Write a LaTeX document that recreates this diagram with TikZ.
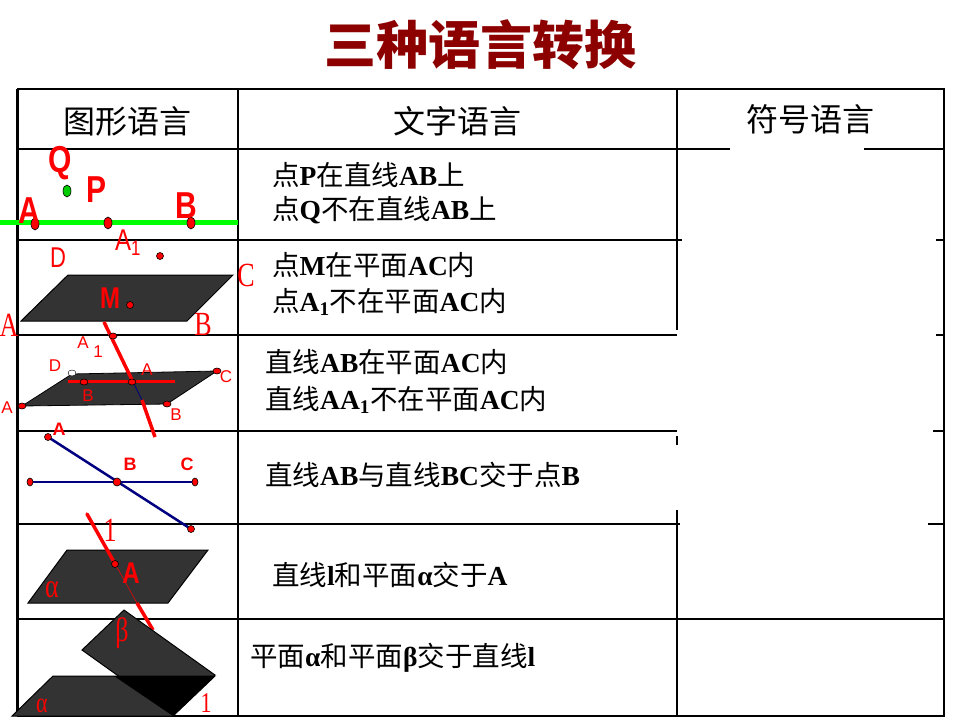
\documentclass[tikz,border=0pt]{standalone}
\usepackage{fontspec}
\setmainfont{Liberation Serif}
\newfontfamily\cjk{Noto Sans CJK SC}
\newfontfamily\lsans{Liberation Sans}
\newcommand{\zh}[1]{{\cjk #1}}
\newcommand{\bb}[1]{\textbf{#1}}
\begin{document}
\begin{tikzpicture}[x=1pt,y=-1pt,
  grid/.style={line width=1.2pt,black},
  txt/.style={anchor=west,font=\fontsize{27.5}{29}\selectfont,inner sep=0pt},
  hdr/.style={font=\cjk\fontsize{32}{34}\selectfont,inner sep=0pt},
  lbl/.style={text=red,font=\lsans\bfseries\fontsize{30}{30}\selectfont,inner sep=0pt,yscale=1.25},
  slbl/.style={text=red,font=\lsans\fontsize{17}{17}\selectfont,inner sep=0pt},
  rlbl/.style={text=red,font=\fontsize{26}{26}\selectfont,inner sep=0pt,yscale=1.3},
  pt/.style={fill=red,draw=black,line width=0.6pt},
  plane/.style={fill=black!80,draw=black,line width=1pt}]
\useasboundingbox (0,0) rectangle (960,720);
\fill[white] (0,0) rectangle (960,720);
% title
\node[font=\cjk\bfseries\fontsize{52}{52}\selectfont,text=red!55!black,draw=none] (title) at (480,45) {三种语言转换};
% table frame
\draw[grid,line width=2pt] (17,89) -- (944,89) -- (944,716) -- (17,716);
\draw[line width=3pt] (17,89) -- (17,716);
\draw[grid] (238,89) -- (238,716);
\draw[grid] (677,89) -- (677,330);
\draw[grid] (677,436) -- (677,445);
\draw[grid] (677,510) -- (677,716);
\foreach \y in {149,240,335,431,524,619} \draw[grid] (17,\y) -- (677,\y);
\draw[grid] (677,149) -- (730,149); \draw[grid] (864,149) -- (944,149);
\draw[grid] (677,240) -- (682,240); \draw[grid] (936,240) -- (944,240);
\draw[grid] (936,335) -- (944,335);
\draw[grid] (933,431) -- (944,431);
\draw[grid] (677,524) -- (680,524); \draw[grid] (928,524) -- (944,524);
\draw[grid] (677,619) -- (944,619);
% headers
\node[hdr] (h1) at (127,121) {图形语言};
\node[hdr] (h2) at (457,121) {文字语言};
\node[hdr] (h3) at (810,119) {符号语言};
% texts
\node[txt] (t1a) at (272,175) {\zh{点}\bb{P}\zh{在直线}\bb{AB}\zh{上}};
\node[txt] (t1b) at (272,210) {\zh{点}\bb{Q}\zh{不在直线}\bb{AB}\zh{上}};
\node[txt] (t2a) at (272,265) {\zh{点}\bb{M}\zh{在平面}\bb{AC}\zh{内}};
\node[txt] (t2b) at (272,302) {\zh{点}\bb{A\textsubscript{1}}\zh{不在平面}\bb{AC}\zh{内}};
\node[txt] (t3a) at (265,362) {\zh{直线}\bb{AB}\zh{在平面}\bb{AC}\zh{内}};
\node[txt] (t3b) at (265,400) {\zh{直线}\bb{AA\textsubscript{1}}\zh{不在平面}\bb{AC}\zh{内}};
\node[txt] (t4) at (265,475) {\zh{直线}\bb{AB}\zh{与直线}\bb{BC}\zh{交于点}\bb{B}};
\node[txt] (t5) at (272,575) {\zh{直线}\bb{l}\zh{和平面}\bb{α}\zh{交于}\bb{A}};
\node[txt] (t6) at (250,658) {\zh{平面}\bb{α}\zh{和平面}\bb{β}\zh{交于直线}\bb{l}};
% row1
\draw[green,line width=5pt] (0,222) -- (238,222);
\fill[pt] (35,224) ellipse (4 and 6);
\fill[pt] (108,223) ellipse (4 and 6);
\fill[pt] (191,223) ellipse (4 and 6);
\filldraw[fill=green!80!black,draw=black,line width=0.6pt] (67,191) ellipse (4 and 6);
\node[lbl] (lQ) at (60,163) {Q};
\node[lbl] (lP) at (97,190) {P};
\node[lbl] (lA) at (29,211) {A};
\node[lbl] (lB) at (186,206) {B};
% row2
\draw[plane] (21,321) -- (187,321) -- (233,275) -- (68,275) -- cycle;
\fill[pt] (160,256) circle (3.5);
\fill[pt] (130,305) circle (3.5);
\node[rlbl,font=\lsans\fontsize{22}{22}\selectfont] (lD2) at (58,258) {D};
\node[lbl,font=\lsans\fontsize{24}{24}\selectfont] (lA12) at (128,243) {A\textsubscript{1}};
\node[rlbl] (lC2) at (246,275) {C};
\node[lbl,font=\lsans\bfseries\fontsize{24}{24}\selectfont] (lM) at (110,298) {M};
\node[rlbl] (lA2) at (9,325) {A};
\node[rlbl] (lB2) at (203,324) {B};
% row3
\draw[plane,line width=0.8pt] (22,406) -- (167,404) -- (217,371) -- (72,374) -- cycle;
\draw[red,line width=3pt] (68,381) -- (175,381);
\draw[red,line width=3.5pt] (104,322) -- (133,382);
\draw[blue!50!black,line width=0.8pt] (133,382) -- (142,400);
\draw[red,line width=3.5pt] (142,400) -- (155,437);
\filldraw[fill=white,draw=black] (72,373) ellipse (4 and 3);
\fill[pt] (84,382) ellipse (4 and 3);
\fill[pt] (132,382) ellipse (4 and 3);
\fill[pt] (113,336) ellipse (4 and 3);
\fill[pt] (217,371) ellipse (4 and 3);
\fill[pt] (22,406) ellipse (4 and 3);
\fill[pt] (167,404) ellipse (4 and 3);
\node[slbl] (l3A1) at (83,343) {A};
\node[slbl] (l3s) at (98,352) {1};
\node[slbl] (l3D) at (55,366) {D};
\node[slbl] (l3A) at (147,370) {A};
\node[slbl] (l3C) at (226,377) {C};
\node[slbl] (l3B) at (88,396) {B};
\node[slbl] (l3Bb) at (176,415) {B};
\node[slbl] (l3Aa) at (7,408) {A};
% row4
\draw[blue!50!black,line width=2.5pt] (48,437) -- (191,529);
\draw[blue!50!black,line width=2.5pt] (30,482) -- (195,482);
\fill[pt] (48,437) ellipse (3.5 and 3.5);
\fill[pt] (191,529) ellipse (3.5 and 3.5);
\fill[pt] (30,482) ellipse (3 and 4);
\fill[pt] (195,482) ellipse (3 and 4);
\fill[pt] (117,482) ellipse (4 and 4);
\node[slbl,font=\lsans\bfseries\fontsize{18}{18}\selectfont] (l4A) at (59,429) {A};
\node[slbl,font=\lsans\bfseries\fontsize{18}{18}\selectfont] (l4B) at (130,464) {B};
\node[slbl,font=\lsans\bfseries\fontsize{18}{18}\selectfont] (l4C) at (187,464) {C};
% row5
\draw[plane] (28,603) -- (168,603) -- (208,550) -- (67,550) -- cycle;
\draw[red,line width=3.5pt,line cap=round] (87,514) -- (114,562);
\draw[red,line width=0.5pt] (114,562) -- (137,603);
\draw[red,line width=3.5pt] (137,603) -- (153,630);
\fill[pt] (115,564) circle (3.5);
\node[rlbl] (l5l) at (110,530) {1};
\node[lbl,font=\lsans\bfseries\fontsize{24}{24}\selectfont] (l5A) at (131,573) {A};
\node[rlbl] (l5a) at (52,590) {α};
% row6
\draw[plane] (124,610) -- (215,675) -- (173,715) -- (82,650) -- cycle;
\draw[plane] (53,676) -- (215,676) -- (173,716) -- (12,716) -- cycle;
\fill[black] (114,676) -- (215,676) -- (173,716) -- cycle;
\node[rlbl] (l6b) at (122,633) {β};
\node[rlbl,font=\fontsize{22}{22}\selectfont] (l6a) at (42,706) {α};
\node[rlbl,font=\fontsize{22}{22}\selectfont] (l6l) at (206,703) {1};
\end{tikzpicture}
\end{document}
